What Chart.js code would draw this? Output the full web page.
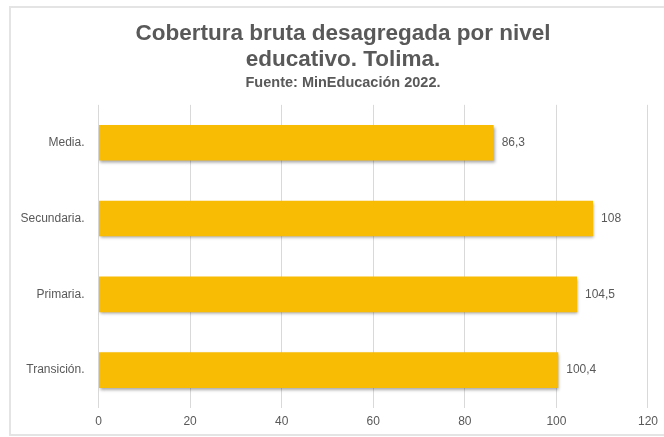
<!DOCTYPE html>
<html>
<head>
<meta charset="utf-8">
<script src="https://cdn.jsdelivr.net/npm/chart.js@4"></script>
<style>
    html, body { margin: 0; padding: 0; background: #fff; }
    #wrap { position: relative; width: 664px; height: 437px; }
</style>
</head>
<body>
<div id="wrap"><canvas id="coberturaChart" width="664" height="437"></canvas></div>
<script>
const niveles = ['Media.', 'Secundaria.', 'Primaria.', 'Transición.'];
const cobertura = [86.3, 108, 104.5, 100.4];
const xTicks = [0, 20, 40, 60, 80, 100, 120];
const tituloLineas = ['Cobertura bruta desagregada por nivel', 'educativo. Tolima.'];
const subtitulo = 'Fuente: MinEducación 2022.';

const textGray = '#595959';
const gridGray = '#d9d9d9';
const fontFamily = '"Liberation Sans", Arial, sans-serif';

function formatValue(v) {
    return String(v).replace('.', ',');
}

function barGradient(context) {
    const chart = context.chart;
    const el = context.element;
    if (!el || !chart.chartArea || !Number.isFinite(el.y) || !Number.isFinite(el.height)) {
        return '#f9bc05';
    }
    const half = el.height / 2;
    const g = chart.ctx.createLinearGradient(0, el.y - half, 0, el.y + half);
    g.addColorStop(0, '#ffcb45');
    g.addColorStop(0.5, '#fbbd0c');
    g.addColorStop(1, '#e5a400');
    return g;
}

// marco gris alrededor del gráfico
const framePlugin = {
    id: 'frame',
    beforeDraw(chart) {
        const ctx = chart.ctx;
        ctx.save();
        ctx.fillStyle = '#ffffff';
        ctx.fillRect(0, 0, chart.width, chart.height);
        ctx.strokeStyle = '#e4e4e4';
        ctx.lineWidth = 2;
        ctx.strokeRect(10, 7, chart.width + 20, chart.height - 9);
        ctx.restore();
    }
};

// el título va centrado un poco a la derecha (como en el original)
const titleShiftPlugin = {
    id: 'titleShift',
    afterLayout(chart) {
        chart.boxes.forEach(box => {
            if (box.options && box.options.text !== undefined && box.position === 'top') {
                box.left += 36;
            }
        });
    }
};

// sombra bajo las barras
const shadowPlugin = {
    id: 'barShadow',
    beforeDatasetDraw(chart) {
        const ctx = chart.ctx;
        ctx.save();
        ctx.shadowColor = 'rgba(0, 0, 0, 0.35)';
        ctx.shadowBlur = 3;
        ctx.shadowOffsetX = 1;
        ctx.shadowOffsetY = 2;
    },
    afterDatasetDraw(chart) {
        chart.ctx.restore();
    }
};

// etiquetas de valor a la derecha de cada barra
const valueLabelPlugin = {
    id: 'valueLabels',
    afterDatasetsDraw(chart) {
        const ctx = chart.ctx;
        const meta = chart.getDatasetMeta(0);
        ctx.save();
        ctx.font = '12px ' + fontFamily;
        ctx.fillStyle = textGray;
        ctx.textAlign = 'left';
        ctx.textBaseline = 'middle';
        meta.data.forEach((bar, i) => {
            ctx.fillText(formatValue(cobertura[i]), bar.x + 8, bar.y);
        });
        ctx.restore();
    }
};

const chart = new Chart(document.getElementById('coberturaChart').getContext('2d'), {
    type: 'bar',
    data: {
        labels: niveles,
        datasets: [
            {
                data: cobertura,
                backgroundColor: barGradient,
                borderWidth: 0,
                barPercentage: 0.47,
                categoryPercentage: 1
            }
        ]
    },
    options: {
        indexAxis: 'y',
        responsive: false,
        animation: false,
        layout: {
            padding: { top: 0, right: 14, bottom: 2.6, left: 0 }
        },
        scales: {
            x: {
                min: 0,
                max: 120,
                afterBuildTicks(scale) {
                    scale.ticks = xTicks.map(v => ({ value: v }));
                },
                grid: {
                    color: gridGray,
                    drawTicks: false
                },
                border: { display: false },
                ticks: {
                    color: textGray,
                    padding: 6,
                    font: { family: fontFamily, size: 12 }
                }
            },
            y: {
                afterFit(scale) {
                    scale.width = 98.5;
                },
                grid: { display: false },
                border: { display: false },
                ticks: {
                    color: textGray,
                    padding: 6,
                    font: { family: fontFamily, size: 12 }
                }
            }
        },
        plugins: {
            legend: { display: false },
            tooltip: { enabled: false },
            title: {
                display: true,
                text: tituloLineas,
                color: textGray,
                padding: { top: 21, bottom: 0 },
                font: { family: fontFamily, size: 22.5, weight: 'bold', lineHeight: 1.15 }
            },
            subtitle: {
                display: true,
                text: subtitulo,
                color: textGray,
                padding: { top: 2, bottom: 12.7 },
                font: { family: fontFamily, size: 14.5, weight: 'bold', lineHeight: 1.2 }
            }
        }
    },
    plugins: [framePlugin, titleShiftPlugin, shadowPlugin, valueLabelPlugin]
});
</script>
</body>
</html>
